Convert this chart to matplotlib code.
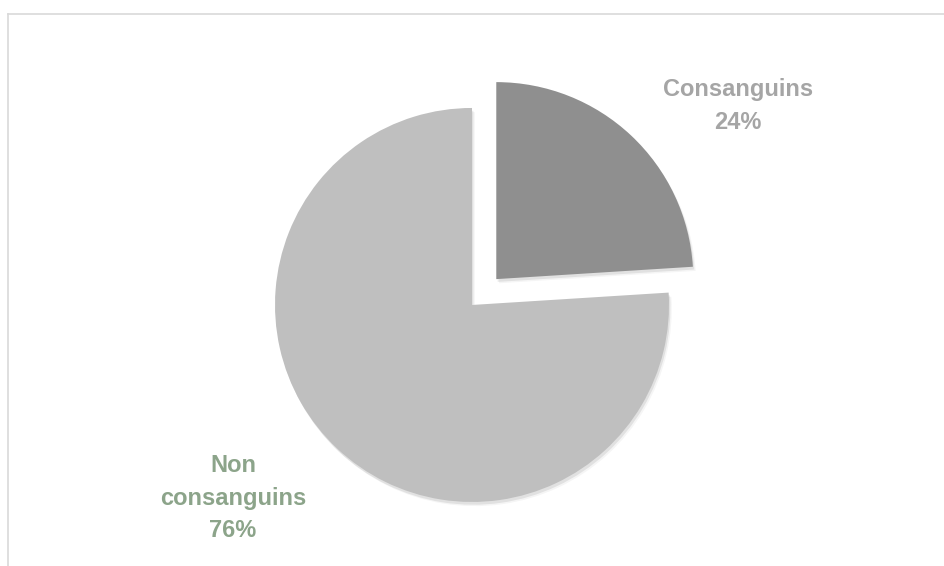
import matplotlib.pyplot as plt
from matplotlib.lines import Line2D
import matplotlib.patheffects as pe

# Données de consanguinité
categories = ['Consanguins', 'Non\nconsanguins']
parts = [24, 76]
slice_colors = ['#8f8f8f', '#bfbfbf']
label_colors = ['#a5a5a5', '#8ca48a']

plt.rcParams['font.family'] = ['Liberation Sans', 'DejaVu Sans']

fig = plt.figure(figsize=(9.45, 5.66), dpi=100)
ax = fig.add_axes([0, 0, 1, 1])

wedges, _ = ax.pie(parts, colors=slice_colors, startangle=90, counterclock=False,
                   explode=[0.18, 0], radius=1, center=(0, 0))
# ombre douce sous les secteurs
for w in wedges:
    w.set_path_effects([pe.SimplePatchShadow(offset=(1, -2), shadow_rgbFace='#000000', alpha=0.08),
                        pe.SimplePatchShadow(offset=(2, -3), shadow_rgbFace='#000000', alpha=0.04),
                        pe.Normal()])

# rayon = 1 unité ≈ 197 px (à régler après pie(), qui impose ses limites)
ax.set_xlim(-2.396, 2.401)
ax.set_ylim(-1.325, 1.548)
ax.set_aspect('equal')
ax.axis('off')

# étiquettes
label_pos = [(1.35, 1.01), (-1.213, -0.98)]
for cat, val, pos, col in zip(categories, parts, label_pos, label_colors):
    ax.text(pos[0], pos[1], f'{cat}\n{val}%', ha='center', va='center',
            fontsize=17, fontweight='bold', color=col, linespacing=1.55)

# cadre du graphique (haut et gauche)
fig.add_artist(Line2D([8.5 / 945, 1], [1 - 13.5 / 566, 1 - 13.5 / 566],
                      transform=fig.transFigure, color='#d9d9d9', lw=1.2))
fig.add_artist(Line2D([8.5 / 945, 8.5 / 945], [0, 1 - 13.5 / 566],
                      transform=fig.transFigure, color='#d9d9d9', lw=1.2))

fig.savefig('out.png', dpi=100, facecolor='white')
